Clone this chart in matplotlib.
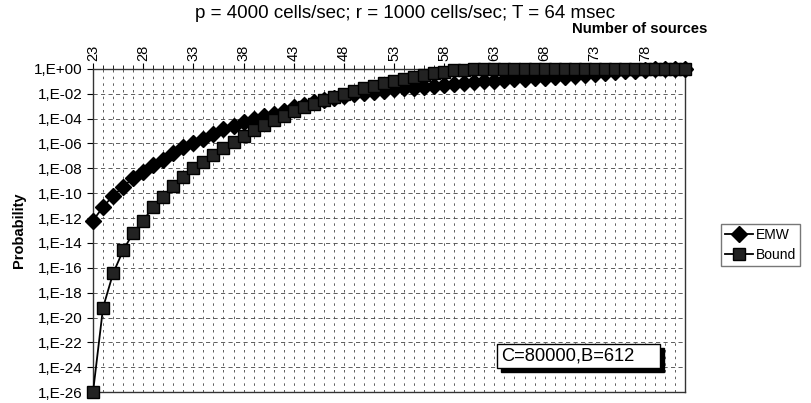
import numpy as np
import matplotlib
matplotlib.use('Agg')
import matplotlib.pyplot as plt
from matplotlib.ticker import FixedLocator, FuncFormatter
from matplotlib.patches import Rectangle

plt.rcParams['font.family'] = ['Liberation Sans', 'DejaVu Sans']

# number of sources
sources = list(range(23, 83))

# log10 of probability
emw_log = [-12.2, -11.1, -10.2, -9.5, -8.75, -8.3, -7.75, -7.3, -6.8, -6.3,
           -5.95, -5.6, -5.25, -4.87, -4.6, -4.25, -4.0, -3.8, -3.6, -3.35,
           -3.1, -2.9, -2.7, -2.5, -2.35, -2.2, -2.05, -1.95, -1.85, -1.75,
           -1.65, -1.57, -1.5, -1.42, -1.35, -1.28, -1.2, -1.13, -1.06, -1.0,
           -0.95, -0.9, -0.85, -0.8, -0.76, -0.72, -0.68, -0.63, -0.57, -0.5,
           -0.42, -0.34, -0.26, -0.19, -0.13, -0.08, -0.04, -0.02, -0.01, 0.0]
bound_log = [-26.0, -19.2, -16.45, -14.6, -13.2, -12.2, -11.1, -10.3, -9.45, -8.7,
             -8.0, -7.5, -6.95, -6.4, -5.87, -5.4, -4.93, -4.5, -4.1, -3.75,
             -3.4, -3.1, -2.8, -2.5, -2.25, -2.0, -1.75, -1.55, -1.35, -1.15,
             -1.0, -0.82, -0.65, -0.5, -0.35, -0.22, -0.12, -0.05, -0.02, 0.0,
             0.0, 0.0, 0.0, 0.0, 0.0, 0.0, 0.0, 0.0, 0.0, 0.0,
             0.0, 0.0, 0.0, 0.0, 0.0, 0.0, 0.0, 0.0, 0.0, 0.0]

emw = 10.0 ** np.array(emw_log)
bound = 10.0 ** np.array(bound_log)

fig = plt.figure(figsize=(8.11, 4.03), dpi=100)
ax = fig.add_axes([0.1147, 0.027, 0.73, 0.802])

ax.plot(sources, emw, '-D', color='black', lw=1.3, ms=8.5, clip_on=False,
        label='EMW', zorder=3)
ax.plot(sources, bound, '-s', color='black', mfc='#222222', lw=1.3, ms=8,
        clip_on=False, label='Bound', zorder=3)

ax.set_yscale('log')
ax.set_ylim(1e-26, 1)
ax.set_xlim(23, 82)

ax.yaxis.set_major_locator(FixedLocator([10.0 ** e for e in range(-26, 1, 2)]))
ax.yaxis.set_minor_locator(FixedLocator([]))
ax.yaxis.set_major_formatter(FuncFormatter(lambda v, p: '1,E%+03d' % int(round(np.log10(v)))))

ax.xaxis.tick_top()
ax.xaxis.set_label_position('top')
ax.xaxis.set_major_locator(FixedLocator(list(range(23, 80, 5))))
ax.xaxis.set_minor_locator(FixedLocator(list(range(23, 83))))
ax.tick_params(axis='x', which='major', labelsize=10.5, labelrotation=90, length=4, pad=2)
ax.tick_params(axis='x', which='minor', length=3)
ax.tick_params(axis='y', labelsize=11, length=4)

ax.grid(True, which='minor', axis='x', color='#444444', lw=0.6, ls=(0, (3, 5)))
ax.grid(True, which='major', axis='x', color='#444444', lw=0.6, ls=(0, (3, 5)))
ax.grid(True, which='major', axis='y', color='#444444', lw=0.6, ls=(0, (5, 4)))

for s in ax.spines.values():
    s.set_linewidth(1.0)
    s.set_color('#333333')

ax.set_ylabel('Probability', fontsize=10.5, fontweight='bold', labelpad=6)
fig.text(0.872, 0.911, 'Number of sources', fontsize=10.7, fontweight='bold',
         ha='right', va='bottom')
fig.text(0.5, 0.967, 'p = 4000 cells/sec; r = 1000 cells/sec; T = 64 msec',
         fontsize=13.5, ha='center', va='center')

# annotation box with shadow
ax.add_patch(Rectangle((0.689, 0.062), 0.276, 0.075, transform=ax.transAxes,
                       facecolor='black', edgecolor='black', zorder=4))
ax.add_patch(Rectangle((0.682, 0.074), 0.276, 0.075, transform=ax.transAxes,
                       facecolor='white', edgecolor='black', lw=1, zorder=5))
ax.text(0.69, 0.111, 'C=80000,B=612', transform=ax.transAxes, fontsize=13.2,
        va='center', ha='left', zorder=6)

fig.legend(loc='center left', bbox_to_anchor=(0.886, 0.392), frameon=True,
           fancybox=False, edgecolor='#555555', fontsize=10, handlelength=2.0,
           borderpad=0.3, labelspacing=0.4, handletextpad=0.2, borderaxespad=0.2)

fig.savefig('out.png', dpi=100)
